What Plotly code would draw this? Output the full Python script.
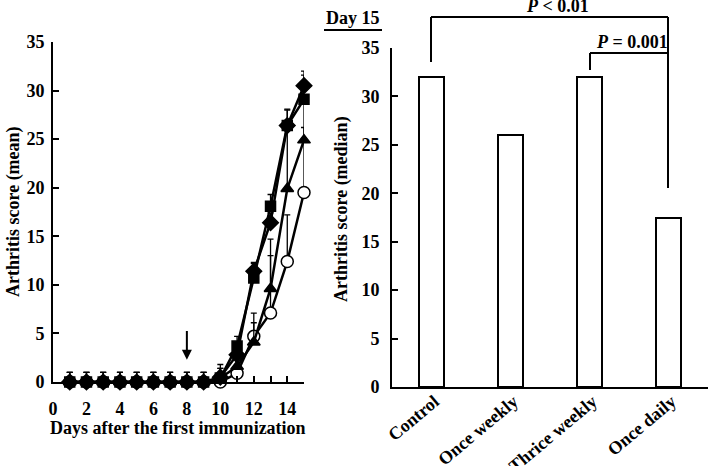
import plotly.graph_objects as go

# ---------------- data ----------------
days = [1, 2, 3, 4, 5, 6, 7, 8, 9, 10, 11, 12, 13, 14, 15]

control_mean = [0, 0, 0, 0, 0, 0, 0, 0, 0, 0.5, 2.8, 11.4, 16.4, 26.4, 30.5]
control_err = [1, 1, 1, 1, 1, 1, 1, 1, 1, 1.3, 1.0, 0.9, 1.0, 1.7, 1.5]

weekly_mean = [0, 0, 0, 0, 0, 0, 0, 0, 0, 0.4, 3.7, 10.7, 18.1, 26.4, 29.1]
weekly_err = [1, 1, 1, 1, 1, 1, 1, 1, 1, 1.0, 1.0, 1.5, 1.2, 1.6, 2.5]

thrice_mean = [0, 0, 0, 0, 0, 0, 0, 0, 0, 0.4, 1.6, 4.1, 9.6, 19.9, 24.9]
thrice_err = [1, 1, 1, 1, 1, 1, 1, 1, 1, 1.0, 1.0, 2.0, 5.1, 6.0, 4.8]

daily_mean = [0, 0, 0, 0, 0, 0, 0, 0, 0, 0, 0.9, 4.7, 7.1, 12.4, 19.5]
daily_err = [0, 0, 0, 0, 0, 0, 0, 0, 0, 0.5, 0.8, 2.4, 5.9, 4.8, 6.7]

groups = ["Control", "Once weekly", "Thrice weekly", "Once daily"]
median_day15 = [32, 26, 32, 17.5]

left_xticks = [0, 2, 4, 6, 8, 10, 12, 14]
yticks = [0, 5, 10, 15, 20, 25, 30, 35]

W, H = 709, 466
FONT = "Liberation Serif"


def px(x):
    return x / W


def py(y):
    return 1 - y / H


fig = go.Figure()

series = [
    (daily_mean, daily_err, "circle", "white", 12),
    (control_mean, control_err, "diamond", "black", 12),
    (weekly_mean, weekly_err, "square", "black", 10),
    (thrice_mean, thrice_err, "triangle-up", "black", 11),
]
for mean, err, sym, fill, size in series:
    fig.add_trace(go.Scatter(
        x=days, y=mean, mode="lines+markers",
        line=dict(color="black", width=2.5),
        marker=dict(symbol=sym, size=size, color=fill,
                    line=dict(color="black", width=1.5)),
        error_y=dict(type="data", array=err, arrayminus=[0] * len(err),
                     symmetric=False, color="black", thickness=1.3, width=3),
        cliponaxis=False, showlegend=False, xaxis="x", yaxis="y",
    ))

fig.add_trace(go.Bar(
    x=groups, y=median_day15, width=0.31,
    marker=dict(color="white", line=dict(color="black", width=2)),
    showlegend=False, xaxis="x2", yaxis="y2",
))

axis_font = dict(family=FONT, size=18, color="black", weight="bold")

fig.update_layout(
    width=W, height=H,
    margin=dict(l=0, r=0, t=0, b=0, autoexpand=False),
    plot_bgcolor="white", paper_bgcolor="white",
    font=dict(family=FONT, color="black"),
    xaxis=dict(domain=[px(53), px(304)], range=[0, 15], anchor="y", automargin=False,
               tickvals=left_xticks, ticks="inside", ticklen=6, tickwidth=1.5,
               ticklabelstandoff=9,
               minor=dict(dtick=1, ticks="inside", ticklen=6, tickwidth=1.5, tickcolor="black"),
               showline=True, linecolor="black", linewidth=2, showgrid=False,
               zeroline=False, tickfont=axis_font, tickcolor="black"),
    yaxis=dict(domain=[py(382), py(42)], range=[0, 35], anchor="x", automargin=False,
               tickvals=yticks, ticks="inside", ticklen=6, tickwidth=1.5,
               ticklabelstandoff=3,
               showline=True, linecolor="black", linewidth=2, showgrid=False,
               zeroline=False, tickfont=axis_font, tickcolor="black"),
    xaxis2=dict(domain=[px(392), px(708)], range=[-0.5, 3.5], anchor="y2", automargin=False,
                ticks="", showline=True, linecolor="black", linewidth=2,
                ticklabelstandoff=-5, ticklabelshift=3,
                showgrid=False, zeroline=False, tickangle=-40, tickfont=axis_font),
    yaxis2=dict(domain=[py(387), py(48)], range=[0, 35], anchor="x2", automargin=False,
                tickvals=yticks, ticks="inside", ticklen=6, tickwidth=1.5,
                ticklabelstandoff=7,
                showline=True, linecolor="black", linewidth=2, showgrid=False,
                zeroline=False, tickfont=axis_font, tickcolor="black"),
    bargap=0,
)

title_font = dict(family=FONT, size=18, color="black", weight="bold")
ann = []


def label(text, x, y, angle=0):
    ann.append(dict(text=text, x=px(x), y=py(y), textangle=angle,
                    xanchor="center", yanchor="middle",
                    xref="paper", yref="paper", showarrow=False, font=title_font))


label("Days after the first immunization", 178, 428)
label("Arthritis score (mean)", 13, 212, -90)
label("Arthritis score (median)", 341, 209, -90)
label("Day 15", 353, 18)
label("<i>P</i> &lt; 0.01", 557, 6)
label("<i>P</i> = 0.001", 632, 42)
# arrow at day 8
ann.append(dict(x=8, y=2.3, ax=8, ay=5.4, xref="x", yref="y", axref="x", ayref="y",
                text="", showarrow=True, arrowhead=2, arrowsize=1, arrowwidth=2,
                arrowcolor="black"))
fig.update_layout(annotations=ann)

# significance brackets and underline
shapes = []


def seg(x0, y0, x1, y1, w=2):
    shapes.append(dict(type="line", xref="paper", yref="paper",
                       x0=px(x0), y0=py(y0), x1=px(x1), y1=py(y1),
                       line=dict(color="black", width=w)))


seg(324, 30, 382, 30)
seg(431, 62, 431, 17)
seg(431, 17, 668, 17)
seg(668, 17, 668, 188)
seg(590, 70, 590, 53)
seg(590, 53, 668, 53)
fig.update_layout(shapes=shapes)

fig.write_html("out.html", config={"displayModeBar": False},
               post_script="document.body.style.margin='0';document.body.style.padding='0';")
